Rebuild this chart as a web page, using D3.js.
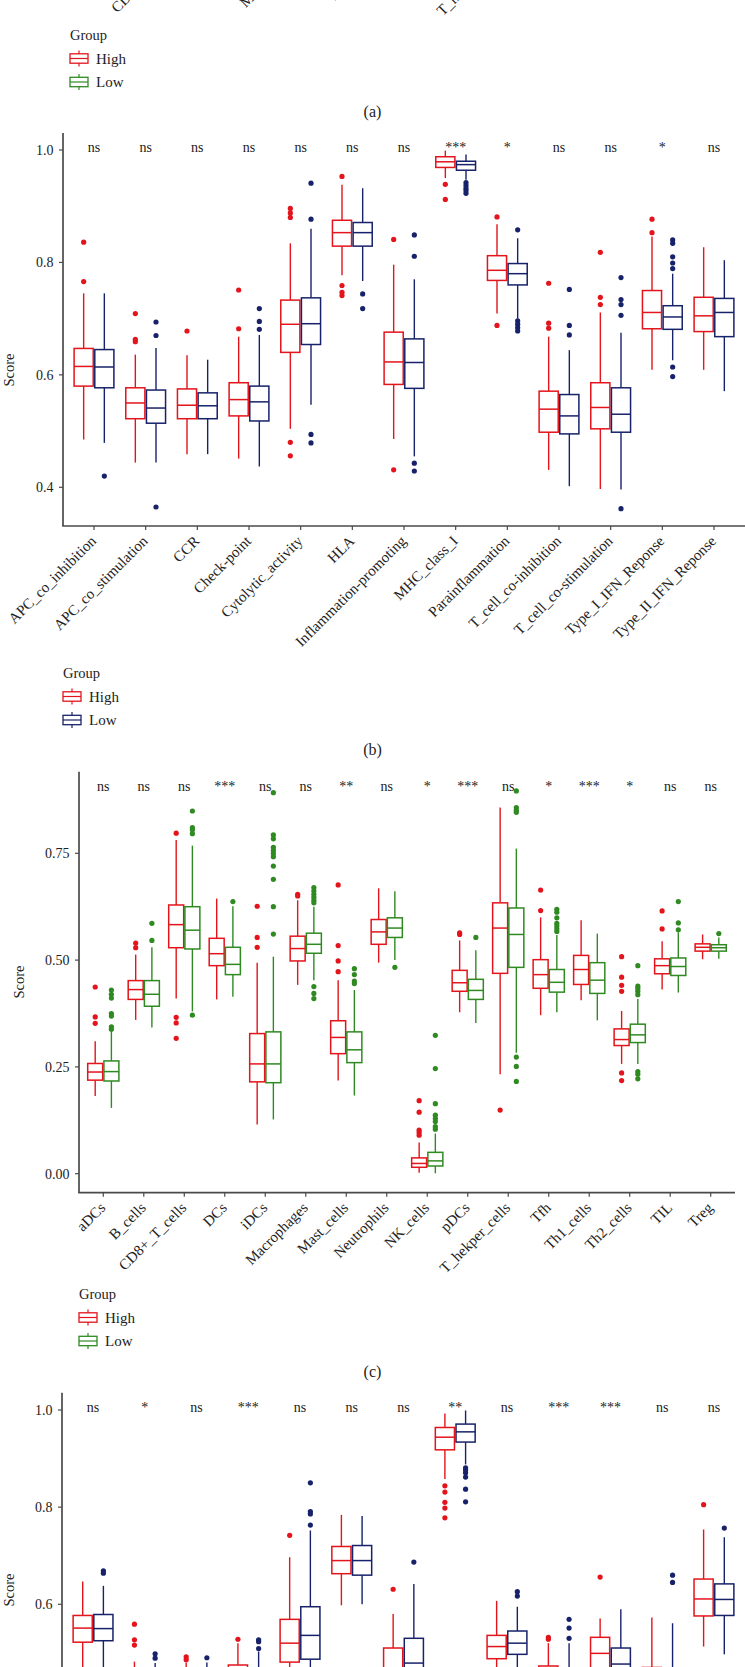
<!DOCTYPE html>
<html><head><meta charset="utf-8">
<script src="https://cdn.jsdelivr.net/npm/d3@7"></script>
<style>
body{margin:0;background:#fff}
svg{display:block}
text{font-family:"Liberation Serif","Times New Roman",serif;fill:#222}
</style>
</head><body>
<svg id="chart" width="745" height="1667"></svg>
<script>
// ---------- categories ----------
const immuneFunctions = ["APC_co_inhibition","APC_co_stimulation","CCR","Check-point","Cytolytic_activity","HLA","Inflammation-promoting","MHC_class_I","Parainflammation","T_cell_co-inhibition","T_cell_co-stimulation","Type_I_IFN_Reponse","Type_II_IFN_Reponse"];
const immuneCells = ["aDCs","B_cells","CD8+_T_cells","DCs","iDCs","Macrophages","Mast_cells","Neutrophils","NK_cells","pDCs","T_hekper_cells","Tfh","Th1_cells","Th2_cells","TIL","Treg"];
const groups = ["High","Low"];

// box stats: [lower whisker, Q1, median, Q3, upper whisker]
// ---------- panel (b) ----------
const bHigh = [[0.485,0.580,0.615,0.647,0.745],[0.444,0.522,0.550,0.577,0.636],[0.459,0.522,0.546,0.575,0.635],[0.451,0.527,0.556,0.586,0.668],[0.504,0.640,0.690,0.733,0.834],[0.777,0.829,0.853,0.875,0.938],[0.486,0.583,0.623,0.676,0.796],[0.950,0.969,0.979,0.988,0.999],[0.709,0.768,0.786,0.812,0.868],[0.431,0.498,0.539,0.571,0.668],[0.397,0.504,0.542,0.586,0.711],[0.609,0.682,0.711,0.750,0.846],[0.609,0.677,0.705,0.738,0.827]];
const bHighOut = [[0.836,0.766],[0.709,0.663,0.659],[0.678],[0.751,0.682],[0.896,0.888,0.880,0.480,0.456],[0.953,0.759,0.747,0.741],[0.841,0.431],[0.939,0.912],[0.881,0.688],[0.763,0.692,0.683],[0.818,0.738,0.725],[0.877,0.853],[]];
const bLow = [[0.479,0.577,0.614,0.645,0.745],[0.444,0.514,0.541,0.573,0.648],[0.459,0.522,0.545,0.568,0.627],[0.437,0.518,0.552,0.580,0.671],[0.547,0.654,0.691,0.737,0.860],[0.767,0.829,0.853,0.871,0.932],[0.455,0.576,0.622,0.664,0.770],[0.947,0.964,0.974,0.980,0.992],[0.700,0.760,0.780,0.798,0.843],[0.402,0.495,0.527,0.565,0.644],[0.396,0.498,0.530,0.577,0.675],[0.626,0.681,0.703,0.723,0.780],[0.571,0.668,0.711,0.736,0.804]];
const bLowOut = [[0.420],[0.694,0.670,0.365],[],[0.718,0.695,0.681],[0.941,0.877,0.494,0.479],[0.744,0.718],[0.849,0.811,0.443,0.429],[0.942,0.937,0.932,0.928,0.923],[0.858,0.696,0.690,0.684,0.678],[0.752,0.688,0.671],[0.773,0.734,0.725,0.706,0.362],[0.840,0.834,0.810,0.799,0.789,0.614,0.597],[]];
const bSig = ["ns","ns","ns","ns","ns","ns","ns","***","*","ns","ns","*","ns"];
const bTicks = [0.4,0.6,0.8,1.0];
const bTickLabels = ["0.4","0.6","0.8","1.0"];

// ---------- panel (c) ----------
const cHigh = [[0.182,0.219,0.238,0.258,0.310],[0.360,0.408,0.431,0.452,0.513],[0.410,0.529,0.583,0.629,0.781],[0.408,0.487,0.515,0.551,0.644],[0.115,0.215,0.257,0.328,0.494],[0.442,0.498,0.527,0.556,0.640],[0.218,0.281,0.319,0.358,0.453],[0.494,0.537,0.566,0.595,0.668],[0.002,0.015,0.024,0.037,0.073],[0.378,0.427,0.447,0.476,0.546],[0.233,0.469,0.575,0.634,0.857],[0.371,0.434,0.466,0.501,0.600],[0.406,0.443,0.478,0.511,0.593],[0.257,0.300,0.314,0.339,0.381],[0.431,0.468,0.487,0.503,0.544],[0.502,0.521,0.530,0.538,0.560]];
const cHighOut = [[0.437,0.367,0.352],[0.540,0.529],[0.797,0.366,0.353,0.317],[],[0.626,0.553,0.530],[0.654,0.650],[0.676,0.534,0.498,0.473],[],[0.171,0.144,0.102,0.096,0.090],[0.564,0.560],[0.149],[0.664,0.616],[],[0.508,0.460,0.441,0.427,0.236,0.218],[0.615,0.573],[]];
const cLow = [[0.154,0.217,0.239,0.264,0.332],[0.342,0.392,0.420,0.452,0.530],[0.380,0.526,0.570,0.625,0.768],[0.414,0.466,0.490,0.530,0.626],[0.127,0.213,0.257,0.332,0.508],[0.453,0.516,0.537,0.563,0.625],[0.183,0.260,0.290,0.332,0.430],[0.500,0.553,0.575,0.599,0.661],[0.001,0.018,0.030,0.050,0.094],[0.353,0.408,0.429,0.455,0.523],[0.283,0.483,0.560,0.622,0.761],[0.378,0.425,0.448,0.478,0.559],[0.359,0.422,0.453,0.494,0.562],[0.257,0.307,0.325,0.350,0.409],[0.424,0.464,0.485,0.505,0.565],[0.503,0.521,0.529,0.536,0.553]];
const cLowOut = [[0.430,0.420,0.411,0.375,0.369,0.344,0.338],[0.586,0.546],[0.849,0.810,0.805,0.796,0.371],[0.637],[0.892,0.793,0.784,0.764,0.757,0.750,0.742,0.720,0.689,0.625,0.561],[0.670,0.662,0.654,0.647,0.640,0.634,0.438,0.422,0.410],[0.480,0.466,0.451,0.445],[0.483],[0.324,0.246,0.164,0.137,0.129,0.122,0.110,0.104],[0.553],[0.896,0.857,0.851,0.846,0.273,0.251,0.216],[0.619,0.612,0.599,0.586,0.580,0.573,0.567],[],[0.487,0.439,0.433,0.427,0.419,0.239,0.233,0.222],[0.637,0.587,0.571],[0.562]];
const cSig = ["ns","ns","ns","***","ns","ns","**","ns","*","***","ns","*","***","*","ns","ns"];
const cTicks = [0,0.25,0.5,0.75];
const cTickLabels = ["0.00","0.25","0.50","0.75"];

// ---------- panel (d) (lower part is cut off in the figure) ----------
const dHigh = [[0.45,0.522,0.551,0.577,0.647],[0.40,0.43,0.45,0.465,0.482],[0.40,0.43,0.445,0.462,0.480],[0.40,0.44,0.455,0.475,0.520],[0.40,0.481,0.520,0.569,0.697],[0.598,0.663,0.690,0.719,0.784],[0.38,0.44,0.465,0.510,0.580],[0.858,0.918,0.944,0.964,0.993],[0.42,0.488,0.513,0.536,0.607],[0.40,0.44,0.455,0.473,0.520],[0.40,0.465,0.499,0.532,0.571],[0.38,0.43,0.45,0.47,0.573],[0.513,0.576,0.611,0.652,0.754]];
const dHighOut = [[],[0.559,0.527,0.516],[0.492,0.486],[0.528],[0.742],[],[0.631],[0.844,0.831,0.810,0.798,0.778],[],[0.532,0.528],[0.656],[],[0.805]];
const dLow = [[0.44,0.525,0.550,0.579,0.638],[0.40,0.43,0.445,0.460,0.479],[0.40,0.43,0.445,0.460,0.480],[0.40,0.43,0.45,0.468,0.503],[0.38,0.487,0.536,0.595,0.752],[0.600,0.660,0.690,0.721,0.782],[0.36,0.42,0.479,0.530,0.642],[0.888,0.934,0.955,0.971,0.999],[0.43,0.497,0.520,0.545,0.595],[0.38,0.42,0.44,0.46,0.520],[0.38,0.44,0.477,0.510,0.590],[0.38,0.42,0.44,0.46,0.561],[0.497,0.577,0.610,0.642,0.738]];
const dLowOut = [[0.669,0.664],[0.498,0.489],[0.490],[0.527,0.523,0.509],[0.850,0.791,0.786,0.763],[],[0.687],[0.881,0.877,0.871,0.862,0.837,0.811],[0.626,0.617],[0.569,0.551,0.530],[],[0.660,0.645],[0.757]];
const dSig = ["ns","*","ns","***","ns","ns","ns","**","ns","***","***","ns","ns"];
const dTicks = [0.4,0.6,0.8,1.0];
const dTickLabels = ["0.4","0.6","0.8","1.0"];

const RED = "#E3141B", NAVY = "#17226A", GREEN = "#2F8A22";
const AXIS = "#4a4a4a";

const svg = d3.select("#chart");

function xAxisLabels(g, x, cats, axisY) {
  cats.forEach(c => {
    g.append("text")
      .attr("transform", `translate(${x(c)+3},${axisY+16}) rotate(-45)`)
      .attr("text-anchor","end")
      .attr("font-size",15)
      .text(c);
  });
}

function legend(lx, ly, lowColor) {
  const g = svg.append("g");
  g.append("text").attr("x",lx).attr("y",ly).attr("font-size",14.5).text("Group");
  [[RED,"High",ly+18.5],[lowColor,"Low",ly+42]].forEach(([col,lab,cy]) => {
    g.append("line").attr("x1",lx+9).attr("x2",lx+9).attr("y1",cy-8).attr("y2",cy+8).attr("stroke",col).attr("stroke-width",1.2);
    g.append("rect").attr("x",lx).attr("y",cy-4.7).attr("width",18).attr("height",9.4)
      .attr("fill","#fff").attr("stroke",col).attr("stroke-width",1.3);
    g.append("line").attr("x1",lx).attr("x2",lx+18).attr("y1",cy).attr("y2",cy).attr("stroke",col).attr("stroke-width",1.2);
    g.append("text").attr("x",lx+26).attr("y",cy+5).attr("font-size",15).text(lab);
  });
}

function caption(txt, y) {
  svg.append("text").attr("x",372.5).attr("y",y).attr("text-anchor","middle").attr("font-size",16).text(txt);
}

function panel(cfg) {
  const g = svg.append("g");
  const x = d3.scalePoint().domain(cfg.cats).range(cfg.xRange).padding(0.6);
  const step = x.step();
  const y = d3.scaleLinear().domain(cfg.yDomain).range(cfg.yRange);
  const bw = step*0.37, dodge = step*0.2;

  // axes
  g.append("line").attr("x1",cfg.xRange[0]).attr("x2",cfg.xRange[0]).attr("y1",cfg.top).attr("y2",cfg.bottom)
    .attr("stroke",AXIS).attr("stroke-width",1.7);
  g.append("line").attr("x1",cfg.xRange[0]-0.8).attr("x2",cfg.xRange[1]).attr("y1",cfg.bottom).attr("y2",cfg.bottom)
    .attr("stroke",AXIS).attr("stroke-width",1.7);
  cfg.ticks.forEach((t,i) => {
    g.append("line").attr("x1",cfg.xRange[0]-4).attr("x2",cfg.xRange[0]).attr("y1",y(t)).attr("y2",y(t)).attr("stroke",AXIS).attr("stroke-width",1.2);
    g.append("text").attr("x",cfg.xRange[0]-9.5).attr("y",y(t)).attr("dy","0.35em").attr("text-anchor","end")
      .attr("font-size",14).text(cfg.tickLabels[i]);
  });
  cfg.cats.forEach(c => {
    g.append("line").attr("x1",x(c)).attr("x2",x(c)).attr("y1",cfg.bottom).attr("y2",cfg.bottom+4).attr("stroke",AXIS).attr("stroke-width",1.2);
  });
  xAxisLabels(g, x, cfg.cats, cfg.bottom);
  g.append("text").attr("transform",`translate(${cfg.scoreX},${cfg.scoreY}) rotate(-90)`)
    .attr("text-anchor","middle").attr("dy","0.35em").attr("font-size",14.5).text("Score");

  // boxes
  const series = [[cfg.high,cfg.highOut,RED,-dodge],[cfg.low,cfg.lowOut,cfg.lowColor,dodge]];
  series.forEach(([stats,outs,col,off]) => {
    stats.forEach((s,i) => {
      const cx = x(cfg.cats[i]) + off;
      const bg = g.append("g");
      bg.append("line").attr("x1",cx).attr("x2",cx).attr("y1",y(s[4])).attr("y2",y(s[3])).attr("stroke",col).attr("stroke-width",1.4);
      bg.append("line").attr("x1",cx).attr("x2",cx).attr("y1",y(s[1])).attr("y2",y(s[0])).attr("stroke",col).attr("stroke-width",1.4);
      bg.append("rect").attr("x",cx-bw/2).attr("y",y(s[3])).attr("width",bw).attr("height",y(s[1])-y(s[3]))
        .attr("fill","#fff").attr("stroke",col).attr("stroke-width",1.5);
      bg.append("line").attr("x1",cx-bw/2).attr("x2",cx+bw/2).attr("y1",y(s[2])).attr("y2",y(s[2])).attr("stroke",col).attr("stroke-width",1.5);
      outs[i].forEach(v => {
        bg.append("circle").attr("cx",cx).attr("cy",y(v)).attr("r",2.6).attr("fill",col);
      });
    });
  });

  // significance
  cfg.sig.forEach((s,i) => {
    g.append("text").attr("x",x(cfg.cats[i])).attr("y",cfg.top+19).attr("text-anchor","middle")
      .attr("font-size",14).attr("fill","#333").text(s);
  });
}

// panel (a): only the lower tips of its axis labels are visible at the top edge
{
  const g = svg.append("g");
  const xa = d3.scalePoint().domain(immuneCells).range([70,735]).padding(0.6);
  xAxisLabels(g, xa, immuneCells, -65);
}
legend(70, 40, GREEN);
caption("(a)", 117);

panel({cats:immuneFunctions, high:bHigh, highOut:bHighOut, low:bLow, lowOut:bLowOut, sig:bSig, lowColor:NAVY,
  xRange:[63,745], yDomain:[0.4,1.0], yRange:[487.3,150], top:133, bottom:526,
  ticks:bTicks, tickLabels:bTickLabels, scoreX:9, scoreY:370});
legend(63, 678, NAVY);
caption("(b)", 755);

panel({cats:immuneCells, high:cHigh, highOut:cHighOut, low:cLow, lowOut:cLowOut, sig:cSig, lowColor:GREEN,
  xRange:[79,735], yDomain:[0,0.75], yRange:[1173.7,853.3], top:771.7, bottom:1192.7,
  ticks:cTicks, tickLabels:cTickLabels, scoreX:19, scoreY:982});
legend(79, 1299, GREEN);
caption("(c)", 1376.5);

panel({cats:immuneFunctions, high:dHigh, highOut:dHighOut, low:dLow, lowOut:dLowOut, sig:dSig, lowColor:NAVY,
  xRange:[62,745], yDomain:[0.6,1.0], yRange:[1604.3,1410], top:1392.7, bottom:1800,
  ticks:dTicks, tickLabels:dTickLabels, scoreX:9, scoreY:1590});
</script>
</body></html>
